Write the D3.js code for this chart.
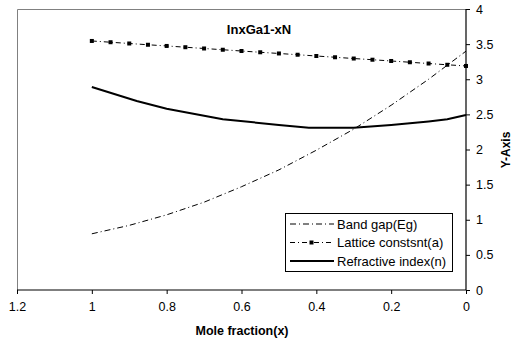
<!DOCTYPE html>
<html>
<head>
<meta charset="utf-8">
<script src="https://cdn.jsdelivr.net/npm/d3@7"></script>
<style>
  body { margin: 0; background: #fff; }
  text { font-family: "Liberation Sans", Arial, sans-serif; fill: #000; }
</style>
</head>
<body>
<svg id="chart"></svg>
<script>
// mole fraction x and the three properties
const latticeX = [1, 0.95, 0.9, 0.85, 0.8, 0.75, 0.7, 0.65, 0.6, 0.55, 0.5,
                  0.45, 0.4, 0.35, 0.3, 0.25, 0.2, 0.15, 0.1, 0.05, 0];
const latticeA = [3.545, 3.527, 3.509, 3.491, 3.474, 3.456, 3.438, 3.420, 3.402, 3.384, 3.367,
                  3.349, 3.331, 3.313, 3.295, 3.278, 3.260, 3.242, 3.224, 3.206, 3.189];

const bandX = [1, 0.9, 0.8, 0.7, 0.6, 0.5, 0.4, 0.3, 0.2, 0.1, 0];
const bandEg = [0.80, 0.92, 1.07, 1.25, 1.47, 1.71, 1.99, 2.29, 2.63, 3.00, 3.40];

const refrX = [1, 0.88, 0.8, 0.65, 0.5, 0.42, 0.3, 0.2, 0.1, 0.05, 0];
const refrN = [2.89, 2.69, 2.58, 2.43, 2.35, 2.31, 2.31, 2.35, 2.40, 2.43, 2.49];

const xTicks = [1.2, 1, 0.8, 0.6, 0.4, 0.2, 0];
const yTicks = [0, 0.5, 1, 1.5, 2, 2.5, 3, 3.5, 4];

const title = "InxGa1-xN";
const xTitle = "Mole fraction(x)";
const yTitle = "Y-Axis";
const legendNames = ["Band gap(Eg)", "Lattice constsnt(a)", "Refractive index(n)"];

const width = 513, height = 345;
const plotL = 17, plotR = 466, plotT = 9, plotB = 290;

const svg = d3.select("#chart")
    .attr("width", width)
    .attr("height", height)
    .attr("viewBox", [0, 0, width, height]);

const x = d3.scaleLinear().domain([1.2, 0]).range([plotL, plotR]);
const y = d3.scaleLinear().domain([0, 4]).range([plotB, plotT]);

// gray frame on top and left
svg.append("path")
    .attr("d", `M${plotL + 0.5},${plotB}V${plotT + 0.5}H${plotR}`)
    .attr("fill", "none")
    .attr("stroke", "#808080")
    .attr("stroke-width", 1);

// axes
const xAxis = svg.append("g")
    .attr("transform", `translate(0,${plotB})`)
    .call(d3.axisBottom(x).tickValues(xTicks).tickSize(4).tickPadding(8)
        .tickFormat(d3.format("")));
const yAxis = svg.append("g")
    .attr("transform", `translate(${plotR},0)`)
    .call(d3.axisRight(y).tickValues(yTicks).tickSize(4).tickPadding(6)
        .tickFormat(d3.format("")));

[xAxis, yAxis].forEach(a => {
    a.select(".domain").attr("stroke", "#000").attr("stroke-width", 1.2);
    a.selectAll(".tick line").attr("stroke", "#000");
    a.selectAll(".tick text")
        .style("font-family", '"Liberation Sans", Arial, sans-serif')
        .style("font-size", "12.5px")
        .attr("fill", "#000");
});
xAxis.select(".domain").attr("d", `M${plotL},0H${plotR}`);
yAxis.select(".domain").attr("d", `M0,${plotT}V${plotB}`);

const line = d3.line().x(d => x(d[0])).y(d => y(d[1]));

// band gap
svg.append("path")
    .datum(d3.zip(bandX, bandEg))
    .attr("d", line)
    .attr("fill", "none")
    .attr("stroke", "#000")
    .attr("stroke-width", 1)
    .attr("stroke-dasharray", "6,3,1,3");

// lattice constant
svg.append("path")
    .datum(d3.zip(latticeX, latticeA))
    .attr("d", line)
    .attr("fill", "none")
    .attr("stroke", "#000")
    .attr("stroke-width", 1)
    .attr("stroke-dasharray", "5,3,1,3");

svg.selectAll(".mark")
    .data(d3.zip(latticeX, latticeA))
    .enter()
    .append("rect")
    .attr("class", "mark")
    .attr("x", d => x(d[0]) - 2)
    .attr("y", d => y(d[1]) - 2)
    .attr("width", 4)
    .attr("height", 4)
    .attr("fill", "#000");

// refractive index
svg.append("path")
    .datum(d3.zip(refrX, refrN))
    .attr("d", line)
    .attr("fill", "none")
    .attr("stroke", "#000")
    .attr("stroke-width", 2);

// titles
svg.append("text")
    .attr("x", 259).attr("y", 34)
    .attr("text-anchor", "middle")
    .style("font-size", "13px")
    .style("font-weight", "bold")
    .text(title);

svg.append("text")
    .attr("x", 242).attr("y", 335)
    .attr("text-anchor", "middle")
    .style("font-size", "12.5px")
    .style("font-weight", "bold")
    .text(xTitle);

svg.append("text")
    .attr("transform", `translate(510,150) rotate(-90)`)
    .attr("text-anchor", "middle")
    .style("font-size", "12px")
    .style("font-weight", "bold")
    .text(yTitle);

// legend
const legend = svg.append("g");
legend.append("rect")
    .attr("x", 285.5).attr("y", 213.5)
    .attr("width", 167).attr("height", 58)
    .attr("fill", "#fff")
    .attr("stroke", "#000")
    .attr("stroke-width", 1);

const styles = [
    { dash: "6,3,1,3", w: 1, marker: false },
    { dash: "5,3,1,3", w: 1, marker: true },
    { dash: null, w: 2, marker: false }
];

legendNames.forEach((name, i) => {
    const ly = 224 + i * 18.5;
    legend.append("line")
        .attr("x1", 290).attr("x2", 334)
        .attr("y1", ly).attr("y2", ly)
        .attr("stroke", "#000")
        .attr("stroke-width", styles[i].w)
        .attr("stroke-dasharray", styles[i].dash);
    if (styles[i].marker) {
        legend.append("rect")
            .attr("x", 309.5).attr("y", ly - 2)
            .attr("width", 4).attr("height", 4)
            .attr("fill", "#000");
    }
    legend.append("text")
        .attr("x", 337).attr("y", ly + 4.5)
        .style("font-size", "13px")
        .text(name);
});
</script>
</body>
</html>
